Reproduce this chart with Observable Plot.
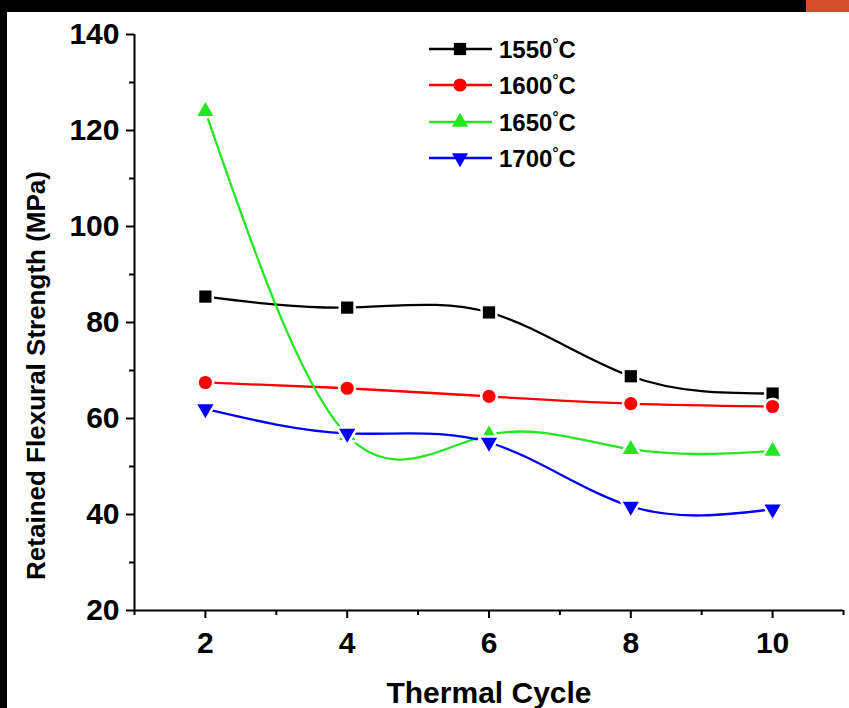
<!DOCTYPE html>
<html><head><meta charset="utf-8">
<script src="https://cdn.jsdelivr.net/npm/d3@7"></script>
<script src="https://cdn.jsdelivr.net/npm/@observablehq/plot@0.6"></script>
<style>
html,body{margin:0;padding:0;background:#fff;}
#wrap{position:relative;width:849px;height:708px;overflow:hidden;background:#fff;}
#wrap svg{display:block;}
.band{position:absolute;}
#legend{position:absolute;left:0;top:0;}
</style></head><body><div id="wrap"></div>
<script>
// ---- data ----
const cycles = [2, 4, 6, 8, 10];
const seriesNames = ["1550°C", "1600°C", "1650°C", "1700°C"];
const s1550 = [85.4, 83.1, 82.1, 68.8, 65.2];
const s1600 = [67.5, 66.3, 64.6, 63.1, 62.5];
const s1650 = [124.0, 56.5, 56.6, 53.6, 53.2];
const s1700 = [62.0, 56.9, 55.0, 41.7, 41.1];
const seriesColors = ["#000000", "#ff0000", "#22e822", "#0000ff"];
const yMajor = [20, 40, 60, 80, 100, 120, 140];
const yMinor = [30, 50, 70, 90, 110, 130];
const xMajor = [2, 4, 6, 8, 10];
const xMinor = [1, 3, 5, 7, 9, 11];
const xLabel = "Thermal Cycle";
const yLabel = "Retained Flexural Strength (MPa)";

const FONT = "'Liberation Sans Narrow','Arial Narrow','Liberation Sans',Arial,sans-serif";

// custom symbols (area-based like d3)
const triUp = {draw(ctx, size){const w=Math.sqrt(size*4/Math.sqrt(3)),h=w*Math.sqrt(3)/2;ctx.moveTo(0,-2*h/3);ctx.lineTo(w/2,h/3);ctx.lineTo(-w/2,h/3);ctx.closePath();}};
const triDown = {draw(ctx, size){const w=Math.sqrt(size*4/Math.sqrt(3)),h=w*Math.sqrt(3)/2;ctx.moveTo(-w/2,-h/3);ctx.lineTo(w/2,-h/3);ctx.lineTo(0,2*h/3);ctx.closePath();}};
const symbols = ["square", "circle", triUp, triDown];
const radii = [6.9, 6.6, 6.0, 6.0];

const allValues = [s1550, s1600, s1650, s1700];
const series = seriesNames.map((name, i) => ({
  name, color: seriesColors[i], symbol: symbols[i], r: radii[i],
  data: cycles.map((c, j) => ({cycle: c, value: allValues[i][j]}))
}));

const marks = [];
// axis lines
marks.push(Plot.ruleY([20], {stroke: "#000", strokeWidth: 2}));
marks.push(Plot.ruleX([1], {y1: 20, y2: 140, stroke: "#000", strokeWidth: 2}));
// ticks
marks.push(Plot.axisY(yMajor, {tickSize: 8, tickPadding: 7, strokeWidth: 2, fontSize: 30, fontWeight: "bold", label: null, fill: "#000"}));
marks.push(Plot.axisY(yMinor, {tickSize: 5, strokeWidth: 2, text: null, label: null}));
marks.push(Plot.axisX(xMajor, {tickSize: 8, tickPadding: 13, strokeWidth: 2, fontSize: 30, fontWeight: "bold", label: null, fill: "#000"}));
marks.push(Plot.axisX(xMinor, {tickSize: 5, strokeWidth: 2, text: null, label: null}));
// titles
marks.push(Plot.text([xLabel], {frameAnchor: "bottom", dy: 92, fontSize: 30, fontWeight: "bold", fill: "#000", textAnchor: "middle", lineAnchor: "bottom"}));
marks.push(Plot.text([yLabel], {frameAnchor: "left", dx: -98, dy: 53, rotate: -90, fontSize: 26, fontWeight: "bold", fill: "#000", textAnchor: "middle", lineAnchor: "middle"}));
// lines
series.forEach(s => marks.push(Plot.line(s.data, {x: "cycle", y: "value", curve: "natural", stroke: s.color, strokeWidth: 2.3})));
// markers
series.forEach(s => marks.push(Plot.dot(s.data, {x: "cycle", y: "value", symbol: s.symbol, r: s.r, fill: s.color, stroke: "white", strokeWidth: 5, paintOrder: "stroke"})));

const chart = Plot.plot({
  width: 849, height: 708,
  marginLeft: 134, marginRight: 6, marginTop: 34, marginBottom: 98,
  style: {fontFamily: FONT, background: "#fff", color: "#000"},
  x: {domain: [1, 11], axis: null},
  y: {domain: [20, 140], axis: null},
  marks
});
const wrap = document.getElementById("wrap");
wrap.appendChild(chart);

// border decorations of the reference picture
function band(l,t,w,h,c){const d=document.createElement("div");d.className="band";Object.assign(d.style,{left:l+"px",top:t+"px",width:w+"px",height:h+"px",background:c});wrap.appendChild(d);}
band(0,0,849,12,"#000");
band(806,0,43,12,"#d5502a");
band(0,0,7,708,"#000");

// legend overlay
const lg = d3.select(wrap).append("svg").attr("id","legend").attr("width",849).attr("height",708);
const rowY = [49, 85, 122, 158];
series.forEach((s, i) => {
  const g = lg.append("g").attr("transform", `translate(0,${rowY[i]})`);
  g.append("line").attr("x1", 429).attr("x2", 492).attr("y1", 0).attr("y2", 0).attr("stroke", s.color).attr("stroke-width", 2.3);
  const sym = typeof s.symbol === "string" ? {square: d3.symbolSquare, circle: d3.symbolCircle}[s.symbol] : s.symbol;
  g.append("path").attr("transform", "translate(460,0)").attr("d", d3.symbol(sym, Math.PI * s.r * s.r)()).attr("fill", s.color);
  const t = g.append("text").attr("x", 499).attr("y", 0).attr("dy", "0.36em").attr("font-family", FONT).attr("font-weight", "bold").attr("font-size", 24).attr("fill", "#000");
  const m = s.name.match(/^(\d+)(°)(C)$/);
  t.append("tspan").text(m[1]);
  t.append("tspan").attr("font-size", 15).attr("dy", "-0.55em").text(m[2]);
  t.append("tspan").attr("dy", "0.37em").attr("font-size", 24).text(m[3]);
});
</script></body></html>
